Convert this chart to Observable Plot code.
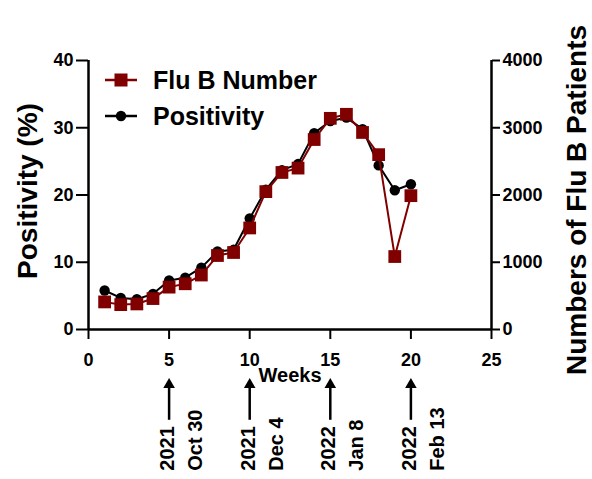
<!DOCTYPE html>
<html><head><meta charset="utf-8">
<script src="https://cdn.jsdelivr.net/npm/d3@7"></script>
<script src="https://cdn.jsdelivr.net/npm/@observablehq/plot@0.6"></script>
<style>
body{margin:0;background:#fff;}
#wrap{position:relative;width:592px;height:479px;overflow:hidden;font-family:"Liberation Sans",Arial,sans-serif;font-weight:bold;}
#legend{position:absolute;left:0;top:0;pointer-events:none;}
</style></head><body><div id="wrap"></div>
<script>
// ---- data ----
const weeks = [1,2,3,4,5,6,7,8,9,10,11,12,13,14,15,16,17,18,19,20];
const positivity = [5.8,4.7,4.5,5.3,7.3,7.7,9.2,11.6,11.85,16.5,20.8,23.7,24.6,29.2,31.0,31.5,29.8,24.4,20.7,21.6];
const fluBNumber = [410,370,380,460,630,680,810,1100,1145,1510,2050,2335,2400,2825,3140,3200,2930,2600,1085,1990];
const xTicks = [0,5,10,15,20,25];
const yTicks = [0,10,20,30,40];
const rightTickLabels = ["0","1000","2000","3000","4000"];
const annWeeks = [5,10,15,20];
const annYears = ["2021","2021","2022","2022"];
const annDates = ["Oct 30","Dec 4","Jan 8","Feb 13"];
const seriesNames = ["Flu B Number","Positivity"];

const RED = "#800000";
const FONT = '"Liberation Sans", Arial, sans-serif';
const rightScale = 100; // 4000 patients <-> 40 %

const data = weeks.map((w,i)=>({week:w, positivity:positivity[i], fluB:fluBNumber[i]/rightScale}));
const ann = annWeeks.map((w,i)=>({week:w, year:annYears[i], date:annDates[i]}));

const chart = Plot.plot({
  width:592, height:479,
  marginLeft:88, marginRight:101, marginTop:60, marginBottom:150,
  style:{fontFamily:FONT, fontWeight:"bold", fontSize:"18px", color:"#000", background:"#fff", overflow:"visible"},
  x:{domain:[0,25]},
  y:{domain:[0,40]},
  marks:[
    Plot.axisX({ticks:xTicks, tickSize:10, tickPadding:14, strokeWidth:2, label:null}),
    Plot.axisY({anchor:"left", ticks:yTicks, tickSize:12, tickPadding:3, strokeWidth:2, label:null}),
    Plot.axisY({anchor:"right", ticks:yTicks, tickSize:8, tickPadding:3, strokeWidth:2, label:null,
      tickFormat:(d)=>rightTickLabels[yTicks.indexOf(d)]}),
    Plot.ruleX([0], {strokeWidth:2.5}),
    Plot.ruleX([25], {strokeWidth:2.5}),
    Plot.ruleY([0], {strokeWidth:2.5}),
    Plot.line(data, {x:"week", y:"positivity", stroke:"#000", strokeWidth:2}),
    Plot.dot(data, {x:"week", y:"positivity", fill:"#000", r:5.2}),
    Plot.line(data, {x:"week", y:"fluB", stroke:RED, strokeWidth:2}),
    Plot.dot(data, {x:"week", y:"fluB", fill:RED, symbol:"square", r:7.2}),
    Plot.text(["Positivity (%)"], {frameAnchor:"left", textAnchor:"middle", lineAnchor:"middle", dx:-60, dy:-4, rotate:-90, fontSize:28, fontWeight:"bold"}),
    Plot.text(["Numbers of Flu B Patients"], {frameAnchor:"right", textAnchor:"middle", lineAnchor:"middle", dx:86, dy:5, rotate:-90, fontSize:28, fontWeight:"bold"}),
    Plot.text(["Weeks"], {frameAnchor:"bottom", textAnchor:"middle", lineAnchor:"middle", dy:46, fontSize:20, fontWeight:"bold"}),
    Plot.ruleX(ann, {x:"week", y1:-13.5, y2:-8.5, strokeWidth:2.5}),
    Plot.dot(ann, {x:"week", y:-8.22, symbol:"triangle", r:4.3, fill:"#000"}),
    Plot.text(ann, {x:"week", y:-21, text:(d)=>d.year+"\n"+d.date, rotate:-90, textAnchor:"start",
      lineAnchor:"middle", lineHeight:1.4, fontSize:20, fontWeight:"bold", dx:10})
  ]
});
const wrap = document.getElementById("wrap");
wrap.appendChild(chart);

// legend overlay
const ns = "http://www.w3.org/2000/svg";
const lg = document.createElementNS(ns, "svg");
lg.setAttribute("id","legend"); lg.setAttribute("width",592); lg.setAttribute("height",140);
const items = [{name:seriesNames[0], color:RED, shape:"square", cy:80},{name:seriesNames[1], color:"#000", shape:"circle", cy:116}];
for (const it of items) {
  const l = document.createElementNS(ns,"line");
  l.setAttribute("x1",105); l.setAttribute("x2",137); l.setAttribute("y1",it.cy); l.setAttribute("y2",it.cy);
  l.setAttribute("stroke",it.color); l.setAttribute("stroke-width",2.5); lg.appendChild(l);
  let m;
  if (it.shape==="square") { m = document.createElementNS(ns,"rect"); m.setAttribute("x",121-6.5); m.setAttribute("y",it.cy-6.5); m.setAttribute("width",13); m.setAttribute("height",13); }
  else { m = document.createElementNS(ns,"circle"); m.setAttribute("cx",121); m.setAttribute("cy",it.cy); m.setAttribute("r",5.2); }
  m.setAttribute("fill",it.color); lg.appendChild(m);
  const t = document.createElementNS(ns,"text");
  t.setAttribute("x",153); t.setAttribute("y",it.cy+9); t.setAttribute("font-size",25); t.setAttribute("font-weight","bold");
  t.setAttribute("font-family",FONT); t.setAttribute("fill","#000"); t.textContent = it.name; lg.appendChild(t);
}
wrap.appendChild(lg);
</script></body></html>
